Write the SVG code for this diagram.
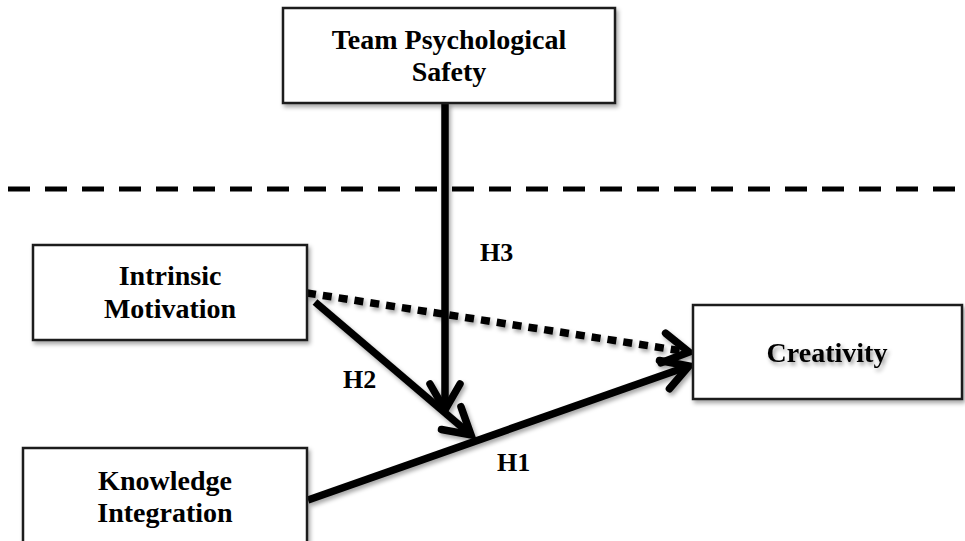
<svg xmlns="http://www.w3.org/2000/svg" width="965" height="541" viewBox="0 0 965 541">
<style>
.box{fill:#fff;stroke:#1c1c1c;stroke-width:2.5;filter:url(#sh)}
.t{font-family:"Liberation Serif","Times New Roman",serif;font-weight:bold;font-size:28px;text-anchor:middle;fill:#000}
.lbl{font-family:"Liberation Serif","Times New Roman",serif;font-weight:bold;font-size:26px;fill:#000}
.ln{fill:none;stroke:#000;stroke-width:7.5}
</style>
<defs>
<filter id="sh" x="-10%" y="-10%" width="130%" height="140%">
<feDropShadow dx="2" dy="3" stdDeviation="2" flood-color="#000" flood-opacity="0.35"/>
</filter>
<filter id="tsh" x="-10%" y="-20%" width="130%" height="160%">
<feDropShadow dx="2" dy="3" stdDeviation="2" flood-color="#000" flood-opacity="0.4"/>
</filter>
<marker id="arr" markerUnits="userSpaceOnUse" markerWidth="44" markerHeight="44" viewBox="0 0 44 44" refX="34" refY="22" orient="auto" overflow="visible">
<path d="M8,7 L34,22 L8,37" fill="none" stroke="#000" stroke-width="7.5" stroke-linecap="round" stroke-linejoin="miter"/>
</marker>
</defs>
<g id="divider">
<line x1="8" y1="189" x2="962" y2="189" stroke="#000" stroke-width="5" stroke-dasharray="22 15"/>
</g>
<g id="connectors" filter="url(#sh)">
<line class="ln" x1="445" y1="103" x2="445" y2="410" marker-end="url(#arr)"/>
<line class="ln" x1="315" y1="302" x2="471" y2="435" marker-end="url(#arr)"/>
<line class="ln" x1="307" y1="293" x2="689" y2="352" stroke-width="8.5" stroke-dasharray="9 7" marker-end="url(#arr)"/>
<line class="ln" x1="308" y1="500" x2="689" y2="366" marker-end="url(#arr)"/>
</g>
<g id="node-tps">
<rect class="box" x="283" y="8" width="332" height="95"/>
<text class="t" x="449" y="49">Team Psychological</text>
<text class="t" x="449" y="81">Safety</text>
</g>
<g id="node-im">
<rect class="box" x="33" y="245" width="274" height="95"/>
<text class="t" x="170" y="285">Intrinsic</text>
<text class="t" x="170" y="318">Motivation</text>
</g>
<g id="node-ki">
<rect class="box" x="23" y="448" width="284" height="120"/>
<text class="t" x="165" y="490">Knowledge</text>
<text class="t" x="165" y="522">Integration</text>
</g>
<g id="node-cr">
<rect class="box" x="693" y="305" width="269" height="94"/>
<text class="t" x="827" y="362" filter="url(#tsh)">Creativity</text>
</g>
<g id="labels">
<text class="lbl" x="480" y="261">H3</text>
<text class="lbl" x="343" y="388">H2</text>
<text class="lbl" x="497" y="471">H1</text>
</g>
</svg>
